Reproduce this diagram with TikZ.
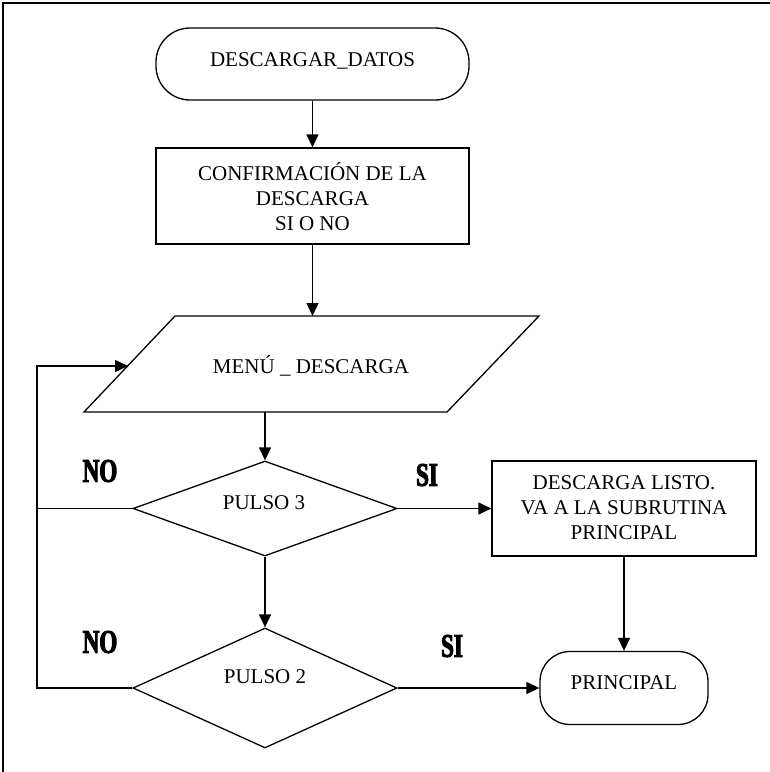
\documentclass[tikz,border=0pt]{standalone}
\usepackage{fontspec}
\setmainfont{Liberation Serif}
\newfontfamily\lblfont{Liberation Serif Bold}[FakeStretch=0.7,FakeBold=3]
\usetikzlibrary{shapes.geometric,arrows.meta}
\begin{document}
\begin{tikzpicture}[x=1pt,y=-1pt,
  shp/.style={draw=black, line width=1.3pt, inner sep=0pt},
  term/.style={shp, rectangle, rounded corners=34pt},
  proc/.style={shp, rectangle},
  dec/.style={shp, diamond},
  txt/.style={font=\fontsize{21}{25}\selectfont, align=center, inner sep=0pt},
  lbl/.style={font=\lblfont\fontsize{33}{33}\selectfont, inner sep=0pt},
  arr/.style={line width=1.3pt, -{Triangle[length=13pt,width=12pt]}},
  ln/.style={line width=1.3pt}]
\useasboundingbox (0,0) rectangle (770,772);
% frame
\draw[line width=2pt] (3,772) -- (3,3) -- (770,3);
% nodes
\node[term, minimum width=313pt, minimum height=72pt] (t1) at (312.5,64) {};
\node[txt] (t1t) at (312.5,61) {DESCARGAR\_DATOS};
\node[proc, minimum width=313pt, minimum height=96pt] (b1) at (312.5,196) {};
\node[txt] (b1t) at (312.5,197) {CONFIRMACIÓN DE LA\\DESCARGA\\SI O NO};
% parallelogram
\coordinate (pa) at (175,316);
\coordinate (pb) at (539,316);
\coordinate (pc) at (447,412);
\coordinate (pd) at (84,412);
\draw[ln, line join=miter] (pa) -- (pb) -- (pc) -- (pd) -- cycle;
\node[txt] (pt) at (311,366) {MENÚ \_ DESCARGA};
\coordinate (pin) at (312.5,316);
\coordinate (pout) at (265,412);
\coordinate (plft) at (128,366);
% decisions
\node[dec, minimum width=264pt, minimum height=95pt] (d1) at (265,508.5) {};
\node[txt] (d1t) at (264,503) {PULSO 3};
\node[dec, minimum width=264pt, minimum height=120pt] (d2) at (265,688) {};
\node[txt] (d2t) at (265,677) {PULSO 2};
\node[proc, minimum width=264pt, minimum height=95pt] (b2) at (624,508.5) {};
\node[txt] (b2t) at (624,508) {DESCARGA LISTO.\\VA A LA SUBRUTINA\\PRINCIPAL};
\node[term, rounded corners=30pt, minimum width=168pt, minimum height=73pt] (p1) at (624,688) {};
\node[txt] (p1t) at (624,683) {PRINCIPAL};
% loop coordinates
\coordinate (lp1) at (37,508.5);
\coordinate (lp2) at (37,688);
\coordinate (lp3) at (37,366);
% connectors
\draw[arr] (t1.south) -- (b1.north);
\draw[arr] (b1.south) -- (pin);
\draw[arr] (pout) -- (d1.north);
\draw[arr] (d1.east) -- (b2.west);
\draw[arr] (d1.south) -- (d2.north);
\draw[arr] (b2.south) -- (p1.north);
\draw[arr] (d2.east) -- (p1.west);
\draw[ln] (d1.west) -- (lp1);
\draw[arr] (d2.west) -- (lp2) -- (lp3) -- (plft);
% labels
\node[lbl] (no1) at (100,471) {NO};
\node[lbl] (no2) at (100,642) {NO};
\node[lbl] (si1) at (427,475) {SI};
\node[lbl] (si2) at (452,646) {SI};
\end{tikzpicture}
\end{document}
